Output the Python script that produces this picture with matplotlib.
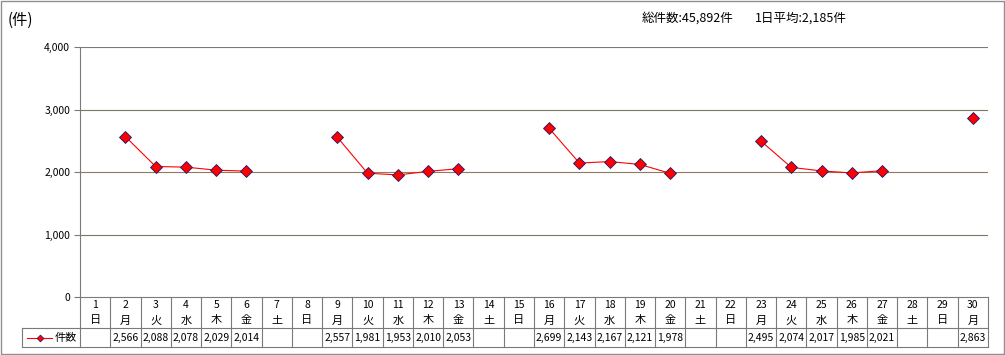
import matplotlib
matplotlib.use("Agg")
import matplotlib.pyplot as plt
import matplotlib.transforms as mtransforms
from matplotlib.patches import Rectangle
import numpy as np

plt.rcParams['font.family'] = ['Noto Sans CJK JP', 'DejaVu Sans']

days = list(range(1, 31))
weekdays = ['日', '月', '火', '水', '木', '金', '土'] * 4 + ['日', '月']
counts = [None, 2566, 2088, 2078, 2029, 2014, None,
          None, 2557, 1981, 1953, 2010, 2053, None,
          None, 2699, 2143, 2167, 2121, 1978, None,
          None, 2495, 2074, 2017, 1985, 2021, None,
          None, 2863]
series_name = '件数'
unit_label = '(件)'
yticks = [0, 1000, 2000, 3000, 4000]

W, H = 1005, 355
fig = plt.figure(figsize=(W / 100, H / 100), dpi=100)

# plot area in pixels
L, R, T, B = 80, 988, 47, 297
ax = fig.add_axes([L / W, (H - B) / H, (R - L) / W, (B - T) / H])

grid_col = '#7a7a7a'
grid_cols = {1000: '#6f7d66', 2000: '#8e7c62', 3000: '#6f7d66', 4000: '#7a7a7a'}
vals = np.array([np.nan if v is None else v for v in counts], dtype=float)
ax.plot(days, vals, color='#ff0000', lw=0.8, marker='D', markersize=6.3,
        markerfacecolor='#ff0000', markeredgecolor='#1a1a6e', markeredgewidth=0.6,
        zorder=3, clip_on=False)

ax.set_xlim(0.5, 30.5)
ax.set_ylim(0, 4000)
ax.set_yticks(yticks)
ax.set_yticklabels([f'{v:,}' for v in yticks], fontsize=7.5)
ax.set_xticks([])
for y in yticks[1:]:
    ax.axhline(y, color=grid_cols[y], lw=0.8, zorder=1)
for s in ['top', 'right']:
    ax.spines[s].set_visible(False)
for s in ['left', 'bottom']:
    ax.spines[s].set_color(grid_col)
    ax.spines[s].set_linewidth(0.8)
ax.tick_params(axis='y', length=4, width=0.8, color=grid_col, pad=3)

# data table
tr = mtransforms.blended_transform_factory(ax.transData, ax.transAxes)
ph = B - T
def yf(py):
    return (B - py) / ph

y_mid = yf(328)
y_bot = yf(347)
line_kw = dict(color=grid_col, lw=0.8, clip_on=False)
for k in range(31):
    ax.plot([0.5 + k, 0.5 + k], [0, y_bot], transform=tr, **line_kw)
ax.plot([0.5, 30.5], [y_mid, y_mid], transform=tr, **line_kw)
ax.plot([0.5, 30.5], [y_bot, y_bot], transform=tr, **line_kw)
for d, wd, v in zip(days, weekdays, counts):
    ax.text(d, yf(305), str(d), transform=tr, ha='center', va='center', fontsize=7.5)
    ax.text(d, yf(320.5), wd, transform=tr, ha='center', va='center', fontsize=8)
    if v is not None:
        ax.text(d, yf(337.5), f'{v:,}', transform=tr, ha='center', va='center', fontsize=7.5)

# legend cell
def xf(px):
    return (px - L) / (R - L)
ax.plot([xf(22), 0], [y_mid, y_mid], transform=ax.transAxes, **line_kw)
ax.plot([xf(22), 0], [y_bot, y_bot], transform=ax.transAxes, **line_kw)
ax.plot([xf(22), xf(22)], [y_mid, y_bot], transform=ax.transAxes, **line_kw)
ax.plot([xf(27), xf(52)], [yf(337.5)] * 2, transform=ax.transAxes, color='#ff0000',
        lw=0.8, clip_on=False)
ax.plot([xf(39.5)], [yf(337.5)], transform=ax.transAxes, marker='D', markersize=3.5,
        color='#ff0000', markeredgecolor='#1a1a6e', markeredgewidth=0.5, clip_on=False)
ax.text(xf(55), yf(337.5), series_name, transform=ax.transAxes, ha='left', va='center',
        fontsize=8)

# titles
fig.text(8 / W, 1 - 20 / H, unit_label, ha='left', va='center', fontsize=11)
valid = [v for v in counts if v is not None]
total = sum(valid)
avg = round(total / len(valid))
fig.text(642 / W, 1 - 18 / H, f'総件数:{total:,}件', ha='left', va='center', fontsize=9)
fig.text(755 / W, 1 - 18 / H, f'1日平均:{avg:,}件', ha='left', va='center', fontsize=9)

# outer border
fig.patches.append(Rectangle((0.5 / W, 1.5 / H), 1003 / W, 352.5 / H, transform=fig.transFigure,
                             fill=False, edgecolor='#909090', lw=1))

fig.savefig('out.png', dpi=100)
